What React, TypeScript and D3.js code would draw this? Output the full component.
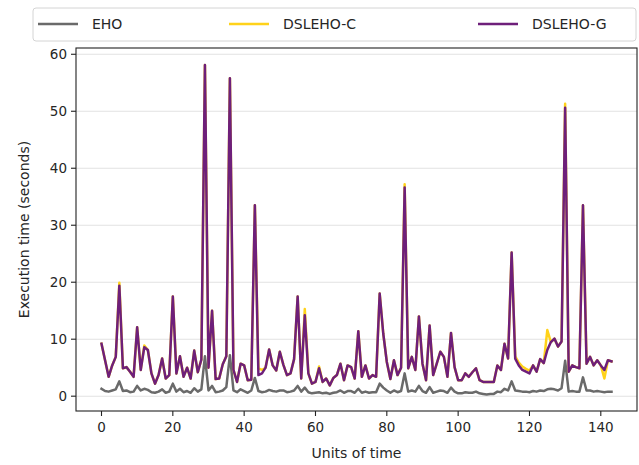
import React from "react";
import * as d3 from "d3";

const seriesNames = ["EHO", "DSLEHO-C", "DSLEHO-G"];
const seriesColors = ["#6a6a6a", "#FFD21A", "#6E1F7A"];

const ehoValues = [
  1.3, 0.9, 0.8, 1.0, 1.2, 2.6, 0.9, 1.0, 0.7, 0.8, 1.8, 1.0, 1.3, 1.1, 0.7, 0.6, 0.8, 1.2, 0.6, 0.8,
  2.2, 0.8, 1.3, 0.7, 0.9, 0.6, 1.4, 0.8, 1.2, 7.0, 1.0, 1.8, 0.7, 0.8, 1.0, 1.6, 7.2, 1.0, 0.7, 1.2,
  0.9, 0.6, 1.0, 3.2, 0.9, 0.7, 0.8, 1.1, 0.9, 0.8, 1.0, 1.0, 0.7, 0.8, 1.0, 1.8, 0.8, 1.5, 0.7, 0.5,
  0.6, 0.7, 0.5, 0.6, 0.4, 0.6, 0.7, 1.0, 0.6, 0.9, 0.9, 0.6, 1.3, 0.6, 0.8, 0.6, 0.7, 0.7, 2.2, 1.5,
  1.0, 0.6, 1.0, 0.7, 0.9, 4.0, 0.8, 1.0, 0.8, 1.8, 0.9, 0.6, 1.6, 0.6, 0.8, 1.0, 0.9, 0.6, 1.5, 0.8,
  0.5, 0.5, 0.7, 0.6, 0.6, 0.8, 0.5, 0.4, 0.3, 0.4, 0.4, 0.8, 0.7, 1.3, 1.0, 2.6, 1.0, 0.9, 0.8, 0.8,
  0.7, 0.9, 0.8, 1.0, 0.9, 1.2, 1.3, 1.2, 1.0, 1.4, 6.2, 0.8, 0.9, 0.8, 0.8, 3.3, 1.0, 1.0, 0.8, 0.9,
  0.8, 0.7, 0.8, 0.8,
];

const dslehoGValues = [
  9.2, 6.3, 3.4, 5.4, 6.9, 19.4, 4.9, 5.1, 4.3, 3.4, 12.1, 4.6, 8.6, 8.1, 4.0, 2.2, 3.7, 6.6, 3.1, 3.7,
  17.5, 4.0, 7.0, 3.4, 5.0, 3.1, 8.0, 4.2, 6.4, 58.1, 5.0, 15.0, 3.0, 3.1, 5.6, 7.0, 55.8, 4.6, 2.5, 5.7,
  5.4, 2.8, 2.9, 33.5, 3.7, 4.0, 5.0, 8.2, 5.4, 4.5, 7.8, 5.5, 3.7, 4.0, 6.5, 17.5, 3.1, 14.2, 4.0, 2.2,
  2.5, 4.9, 2.5, 3.1, 1.9, 3.2, 3.7, 5.7, 2.8, 5.4, 5.1, 3.1, 11.4, 3.4, 5.4, 3.1, 3.7, 3.4, 18.0, 11.0,
  6.0, 3.0, 6.3, 3.7, 5.0, 36.6, 4.9, 6.9, 4.6, 14.0, 5.7, 2.8, 12.4, 3.7, 5.7, 7.8, 6.9, 3.4, 11.1, 5.1,
  2.8, 2.8, 4.0, 3.4, 4.2, 4.9, 2.8, 2.5, 2.5, 2.5, 2.5, 5.4, 4.6, 9.2, 6.6, 25.2, 6.6, 5.4, 4.6, 4.3,
  4.0, 5.4, 4.3, 6.5, 5.8, 8.1, 9.5, 10.1, 8.7, 9.6, 50.6, 4.3, 5.4, 5.1, 4.9, 33.5, 5.7, 6.9, 5.4, 6.3,
  5.4, 4.6, 6.3, 6.1,
];

const dslehoCValues = [
  9.2, 6.3, 3.4, 5.4, 6.9, 19.9, 4.9, 5.1, 4.3, 3.4, 12.1, 4.6, 8.9, 8.1, 4.0, 2.2, 3.7, 6.6, 3.1, 3.7,
  17.5, 4.0, 7.0, 3.4, 5.0, 3.1, 8.0, 4.2, 6.4, 58.1, 5.0, 15.0, 3.0, 3.1, 5.6, 7.0, 55.8, 4.6, 2.5, 5.7,
  5.4, 2.8, 2.9, 33.5, 4.9, 4.6, 5.0, 8.2, 5.4, 4.5, 7.8, 5.5, 3.7, 4.0, 6.5, 17.5, 3.1, 15.3, 4.0, 2.2,
  2.5, 5.2, 2.5, 3.1, 1.9, 3.2, 3.7, 5.7, 2.8, 5.4, 5.1, 3.1, 11.4, 3.4, 5.4, 3.1, 3.7, 3.4, 18.0, 11.0,
  6.0, 3.0, 6.3, 3.7, 5.0, 37.2, 4.9, 6.9, 4.6, 14.0, 5.7, 2.8, 12.4, 3.7, 5.7, 7.8, 6.9, 3.4, 11.1, 5.1,
  2.8, 2.8, 4.0, 3.4, 4.2, 4.9, 2.8, 2.5, 2.5, 2.5, 2.5, 5.4, 4.6, 9.2, 6.6, 25.2, 7.0, 5.9, 5.2, 4.8,
  4.5, 5.4, 4.3, 6.5, 5.8, 11.6, 9.5, 10.1, 8.7, 9.6, 51.3, 4.3, 5.4, 5.1, 4.9, 33.5, 5.7, 6.9, 5.4, 6.3,
  5.4, 3.1, 6.3, 6.1,
];

const xTicks = [0, 20, 40, 60, 80, 100, 120, 140];
const yTicks = [0, 10, 20, 30, 40, 50, 60];
const xLabel = "Units of time";
const yLabel = "Execution time (seconds)";

const W = 639;
const H = 465;
const plot = { left: 76, right: 637, top: 48, bottom: 411 };
const font = "'DejaVu Sans', Verdana, sans-serif";

export default function App() {
  const x = d3.scaleLinear().domain([-7.15, 150.15]).range([plot.left, plot.right]);
  const y = d3.scaleLinear().domain([-2.6, 61.1]).range([plot.bottom, plot.top]);
  const line = d3
    .line<number>()
    .x((_, i) => x(i))
    .y((d) => y(d));

  const allSeries = [ehoValues, dslehoCValues, dslehoGValues];

  const legendItems = [
    { lx: 38, tx: 92 },
    { lx: 229, tx: 283 },
    { lx: 478, tx: 532 },
  ];

  return (
    <svg width={W} height={H} style={{ position: "absolute", left: 0, top: 0, background: "#fff" }}>
      <defs>
        <clipPath id="plotclip">
          <rect x={plot.left} y={plot.top} width={plot.right - plot.left} height={plot.bottom - plot.top} />
        </clipPath>
      </defs>
      <rect x={0} y={0} width={W} height={H} fill="#fff" />
      {yTicks.map((t) => (
        <line key={"g" + t} x1={plot.left} x2={plot.right} y1={y(t)} y2={y(t)} stroke="#e2e2e2" strokeWidth={1.1} />
      ))}
      <g clipPath="url(#plotclip)">
        {allSeries.map((vals, k) => (
          <path
            key={seriesNames[k]}
            d={line(vals) || ""}
            fill="none"
            stroke={seriesColors[k]}
            strokeWidth={2.5}
            strokeLinejoin="round"
            strokeLinecap="square"
          />
        ))}
      </g>
      <rect
        x={plot.left}
        y={plot.top}
        width={plot.right - plot.left}
        height={plot.bottom - plot.top}
        fill="none"
        stroke="#222"
        strokeWidth={1.1}
      />
      {xTicks.map((t) => (
        <g key={"x" + t}>
          <line x1={x(t)} x2={x(t)} y1={plot.bottom} y2={plot.bottom + 5} stroke="#222" strokeWidth={1.1} />
          <text x={x(t)} y={plot.bottom + 21} textAnchor="middle" fontFamily={font} fontSize={13.5} fill="#262626">
            {t}
          </text>
        </g>
      ))}
      {yTicks.map((t) => (
        <g key={"y" + t}>
          <line x1={plot.left - 5} x2={plot.left} y1={y(t)} y2={y(t)} stroke="#222" strokeWidth={1.1} />
          <text
            x={plot.left - 9}
            y={y(t)}
            dy="0.35em"
            textAnchor="end"
            fontFamily={font}
            fontSize={13.5}
            fill="#262626"
          >
            {t}
          </text>
        </g>
      ))}
      <text
        x={(plot.left + plot.right) / 2}
        y={458}
        textAnchor="middle"
        fontFamily={font}
        fontSize={14}
        fill="#262626"
      >
        {xLabel}
      </text>
      <text
        transform={`translate(29, ${(plot.top + plot.bottom) / 2}) rotate(-90)`}
        textAnchor="middle"
        fontFamily={font}
        fontSize={14}
        fill="#262626"
      >
        {yLabel}
      </text>
      <rect x={33} y={8} width={603} height={33} rx={3} fill="#fff" stroke="#d4d4d4" strokeWidth={1} />
      {legendItems.map((it, k) => (
        <g key={"l" + k}>
          <line x1={it.lx} x2={it.lx + 40} y1={24} y2={24} stroke={seriesColors[k]} strokeWidth={2.5} />
          <text x={it.tx} y={24} dy="0.35em" fontFamily={font} fontSize={14} fill="#262626">
            {seriesNames[k]}
          </text>
        </g>
      ))}
    </svg>
  );
}
